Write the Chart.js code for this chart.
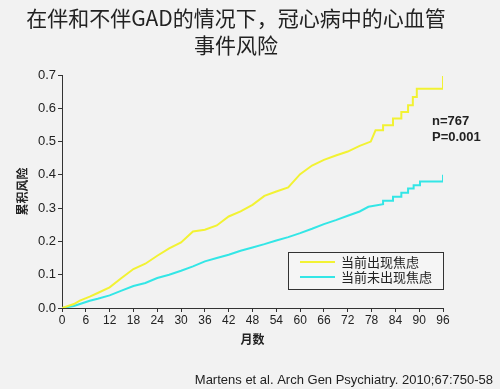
<!DOCTYPE html>
<html>
<head>
<meta charset="utf-8">
<script src="https://cdn.jsdelivr.net/npm/chart.js@4"></script>
<style>
  html, body { margin: 0; padding: 0; background: #f2f2f2; }
  #wrap { width: 500px; height: 389px; }
</style>
</head>
<body>
<div id="wrap"><canvas id="km" width="500" height="389"></canvas></div>
<script>
// Kaplan-Meier style cumulative risk
var anxMonths = [0, 3, 4.5, 7, 9, 12, 15, 18, 21, 24, 27, 30, 33, 36, 39, 42, 45, 48, 51, 54, 57, 60, 63, 66, 69, 72, 75, 77.8, 79, 80.9, 80.9, 83.4, 83.4, 85.5, 85.5, 87.2, 87.2, 88.4, 88.4, 89.4, 89.4, 96, 96];
var anxRisk   = [0, 0.012, 0.022, 0.034, 0.045, 0.062, 0.09, 0.117, 0.133, 0.157, 0.179, 0.197, 0.23, 0.235, 0.248, 0.275, 0.29, 0.31, 0.337, 0.35, 0.362, 0.402, 0.428, 0.445, 0.458, 0.47, 0.487, 0.5, 0.534, 0.534, 0.549, 0.549, 0.569, 0.569, 0.589, 0.589, 0.609, 0.609, 0.634, 0.634, 0.659, 0.659, 0.697];

var noAnxMonths = [0, 3, 7, 9, 12, 15, 18, 21, 24, 27, 30, 33, 36, 39, 42, 45, 48, 51, 54, 57, 60, 63, 66, 69, 72, 75, 77.2, 80.9, 80.9, 83.4, 83.4, 85.5, 85.5, 87.2, 87.2, 88.6, 88.6, 90.2, 90.2, 96, 96];
var noAnxRisk   = [0, 0.006, 0.022, 0.028, 0.038, 0.052, 0.066, 0.075, 0.09, 0.1, 0.112, 0.125, 0.14, 0.15, 0.16, 0.172, 0.182, 0.192, 0.203, 0.213, 0.225, 0.238, 0.252, 0.264, 0.277, 0.29, 0.304, 0.312, 0.322, 0.322, 0.334, 0.334, 0.346, 0.346, 0.359, 0.359, 0.369, 0.369, 0.38, 0.38, 0.40];

var SERIES_LABELS = ['当前出现焦虑', '当前未出现焦虑'];
var SERIES_COLORS = ['#f2f233', '#33e6e6'];

var TITLE_LINES = ['在伴和不伴GAD的情况下，冠心病中的心血管', '事件风险'];
var X_TITLE = '月数';
var Y_TITLE = '累积风险';
var STATS_LINES = ['n=767', 'P=0.001'];
var CITATION = 'Martens et al. Arch Gen Psychiatry. 2010;67:750-58';

function toPoints(xs, ys) {
  return xs.map(function (x, i) { return { x: x, y: ys[i] }; });
}

var CJK = '"Noto Sans CJK SC", "Liberation Sans", sans-serif';
var LATIN = '"Liberation Sans", Arial, sans-serif';
var INK = '#222222';

var slidePlugin = {
  id: 'slide',
  beforeDraw: function (chart) {
    var ctx = chart.ctx;
    ctx.save();
    ctx.fillStyle = '#f2f2f2';
    ctx.fillRect(0, 0, chart.width, chart.height);
    ctx.restore();
  },
  afterDraw: function (chart) {
    var ctx = chart.ctx;
    var area = chart.chartArea;
    ctx.save();
    ctx.fillStyle = INK;
    ctx.textAlign = 'center';
    ctx.textBaseline = 'middle';

    // title
    ctx.font = '21px ' + CJK;
    ctx.fillText(TITLE_LINES[0], 236, 18);
    ctx.fillText(TITLE_LINES[1], 236, 45);

    // axis titles
    ctx.font = 'bold 12px ' + CJK;
    ctx.fillText(X_TITLE, (area.left + area.right) / 2, 339);
    ctx.save();
    ctx.translate(22, (area.top + area.bottom) / 2);
    ctx.rotate(-Math.PI / 2);
    ctx.fillText(Y_TITLE, 0, 0);
    ctx.restore();

    // stats annotation
    ctx.textAlign = 'left';
    ctx.font = 'bold 13px ' + LATIN;
    ctx.fillText(STATS_LINES[0], 432, 121);
    ctx.fillText(STATS_LINES[1], 432, 137);

    // legend box
    ctx.fillStyle = '#f5f5f5';
    ctx.fillRect(288.5, 252.5, 155, 37);
    ctx.strokeStyle = '#333333';
    ctx.lineWidth = 1;
    ctx.strokeRect(288.5, 252.5, 155, 37);
    var rows = [262, 277];
    ctx.font = '13px ' + CJK;
    for (var i = 0; i < SERIES_LABELS.length; i++) {
      ctx.strokeStyle = SERIES_COLORS[i];
      ctx.lineWidth = 2;
      ctx.beginPath();
      ctx.moveTo(300, rows[i]);
      ctx.lineTo(335, rows[i]);
      ctx.stroke();
      ctx.fillStyle = INK;
      ctx.fillText(SERIES_LABELS[i], 341, rows[i]);
    }

    // citation
    ctx.textAlign = 'right';
    ctx.font = '13px ' + LATIN;
    ctx.fillText(CITATION, 493, 380);
    ctx.restore();
  }
};

new Chart(document.getElementById('km').getContext('2d'), {
  type: 'line',
  data: {
    datasets: [
      {
        label: SERIES_LABELS[0],
        data: toPoints(anxMonths, anxRisk),
        borderColor: SERIES_COLORS[0],
        borderWidth: 2,
        pointRadius: 0,
        tension: 0,
        fill: false,
      },
      {
        label: SERIES_LABELS[1],
        data: toPoints(noAnxMonths, noAnxRisk),
        borderColor: SERIES_COLORS[1],
        borderWidth: 2,
        pointRadius: 0,
        tension: 0,
        fill: false,
      },
    ],
  },
  options: {
    responsive: false,
    animation: false,
    layout: { padding: { top: 75, right: 57, left: 0, bottom: 0 } },
    plugins: {
      legend: { display: false },
      tooltip: { enabled: false },
      title: { display: false },
    },
    scales: {
      x: {
        type: 'linear',
        min: 0,
        max: 96,
        afterFit: function (scale) { scale.height = 81; },
        border: { color: '#333333', width: 1 },
        grid: { drawOnChartArea: false, drawTicks: true, tickLength: 4, color: '#333333' },
        ticks: { stepSize: 6, color: INK, font: { family: LATIN, size: 12 }, padding: 1, maxRotation: 0 },
      },
      y: {
        min: 0,
        max: 0.7,
        afterFit: function (scale) { scale.width = 62; },
        border: { color: '#333333', width: 1 },
        grid: { drawOnChartArea: false, drawTicks: true, tickLength: 4, color: '#333333' },
        ticks: {
          stepSize: 0.1,
          color: INK,
          font: { family: LATIN, size: 13 },
          padding: 2,
          callback: function (v) { return v.toFixed(1); },
        },
      },
    },
  },
  plugins: [slidePlugin],
});
</script>
</body>
</html>
